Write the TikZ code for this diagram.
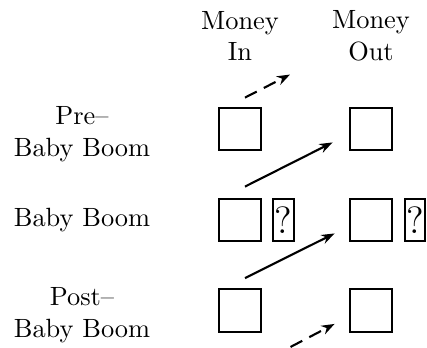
\documentclass[tikz,border=0pt]{standalone}
\usetikzlibrary{arrows.meta,calc}
\begin{document}
\begin{tikzpicture}[x=0.379pt,y=-0.379pt,
  cell/.style={draw,thick,minimum width=16.2pt,minimum height=16.2pt,inner sep=0pt},
  qbox/.style={draw,thick,minimum width=7.8pt,minimum height=16.2pt,inner sep=0pt,font=\Large},
  lbl/.style={align=center},
  flow/.style={thick,-{Stealth[length=5pt,width=3.6pt]}},
  flowdash/.style={flow,dash pattern=on 5pt off 3pt}]
\useasboundingbox (0,0) rectangle (427,348);

% column and row headings
\node[lbl] (mi) at (240,36) {Money\\In};
\node[lbl] (mo) at (371,36) {Money\\Out};
\node[lbl] (pre) at (82,134) {Pre--\\Baby Boom};
\node[lbl] (bb) at (82,220.5) {Baby Boom};
\node[lbl] (post) at (82,315) {Post--\\Baby Boom};

% cells
\node[cell] (in1) at (240,129) {};
\node[cell] (out1) at (371,129) {};
\node[cell] (in2) at (240,220) {};
\node[qbox] (q1) at (283.5,220) {?};
\node[cell] (out2) at (371,220) {};
\node[qbox] (q2) at (415,220) {?};
\node[cell] (in3) at (240,310.5) {};
\node[cell] (out3) at (371,310.5) {};

% flows between generations
\coordinate (s1) at ($(in1.north)+(5,-9)$);
\coordinate (e0) at ($(s1)+(45,-23)$);
\coordinate (e3) at ($(out3.south west)+(-14,-9)$);
\coordinate (s4) at ($(e3)+(-44,23)$);
\draw[flowdash] (s1) -- (e0);
\draw[flow] ($(in2.north)+(5,-11)$) -- ($(out1.south west)+(-16,-9)$);
\draw[flow] ($(in3.north)+(5,-10)$) -- ($(out2.south west)+(-14,-9)$);
\draw[flowdash] (s4) -- (e3);
\end{tikzpicture}
\end{document}
